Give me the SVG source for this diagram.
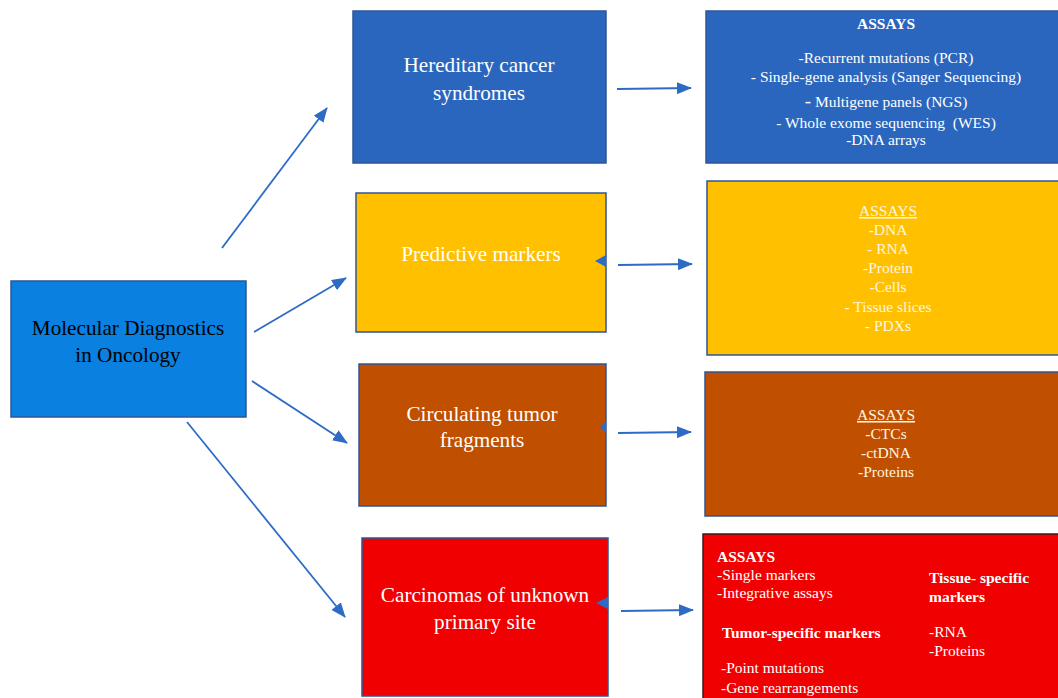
<svg xmlns="http://www.w3.org/2000/svg" width="1058" height="698" viewBox="0 0 1058 698">
<defs>
<marker id="ah" markerUnits="userSpaceOnUse" markerWidth="15" markerHeight="12" refX="14" refY="6" orient="auto">
<path d="M0,0 L15,6 L0,12 Z" fill="#2E6BC6"/>
</marker>
<style>
text{font-family:"Liberation Serif","Times New Roman",serif;}
.t20{font-size:21.2px;fill:#ffffff;text-anchor:middle;}
.t14{font-size:15.5px;fill:#ffffff;}
.c{text-anchor:middle;}
.b{font-weight:bold;}
.cream{fill:#FFF6E0;}
.conn line{stroke:#2E6BC6;stroke-width:1.8;marker-end:url(#ah);}
.box{stroke:#2F5597;stroke-width:1.5;}
</style>
</defs>
<rect width="1058" height="698" fill="#ffffff"/>

<g id="node-main">
<rect class="box" x="11" y="281" width="235" height="136" fill="#0A80E0"/>
<text x="128" y="335" style="font-size:21.2px;fill:#000;text-anchor:middle">Molecular Diagnostics</text>
<text x="128" y="362" style="font-size:21.2px;fill:#000;text-anchor:middle">in Oncology</text>
</g>

<g id="node-hereditary">
<rect class="box" x="353" y="11" width="253" height="152" fill="#2A66BE"/>
<text class="t20" x="479" y="72">Hereditary cancer</text>
<text class="t20" x="479" y="100">syndromes</text>
</g>

<g id="node-predictive">
<rect class="box" x="356" y="193" width="250" height="139" fill="#FFC000"/>
<text class="t20" x="481" y="261">Predictive markers</text>
</g>

<g id="node-circulating">
<rect class="box" x="359" y="364" width="247" height="142" fill="#C05000"/>
<text class="t20" x="482" y="421">Circulating tumor</text>
<text class="t20" x="482" y="447">fragments</text>
</g>

<g id="node-cup">
<rect class="box" x="362" y="538" width="246" height="158" fill="#F00000"/>
<text class="t20" x="485" y="602">Carcinomas of unknown</text>
<text class="t20" x="485" y="629">primary site</text>
</g>

<g id="node-assays-hereditary">
<rect class="box" x="706" y="11" width="360" height="152" fill="#2A66BE"/>
<text class="t14 c b" x="886" y="29">ASSAYS</text>
<text class="t14 c" x="886" y="63">-Recurrent mutations (PCR)</text>
<text class="t14 c" x="886" y="82">- Single-gene analysis (Sanger Sequencing)</text>
<text class="t14 c" x="886" y="107"><tspan style="font-size:19px">-</tspan> Multigene panels (NGS)</text>
<text class="t14 c" x="886" y="128" xml:space="preserve">- Whole exome sequencing  (WES)</text>
<text class="t14 c" x="886" y="145">-DNA arrays</text>
</g>

<g id="node-assays-predictive">
<rect class="box" x="707" y="181" width="360" height="174" fill="#FFC000"/>
<text class="t14 c cream" x="888" y="216" text-decoration="underline">ASSAYS</text>
<text class="t14 c cream" x="888" y="235">-DNA</text>
<text class="t14 c cream" x="888" y="254">- RNA</text>
<text class="t14 c cream" x="888" y="273">-Protein</text>
<text class="t14 c cream" x="888" y="292">-Cells</text>
<text class="t14 c cream" x="888" y="312">- Tissue slices</text>
<text class="t14 c cream" x="888" y="331">- PDXs</text>
</g>

<g id="node-assays-circulating">
<rect class="box" x="705" y="372" width="360" height="144" fill="#C05000"/>
<text class="t14 c cream" x="886" y="420" text-decoration="underline">ASSAYS</text>
<text class="t14 c cream" x="886" y="439">-CTCs</text>
<text class="t14 c cream" x="886" y="458">-ctDNA</text>
<text class="t14 c cream" x="886" y="477">-Proteins</text>
</g>

<g id="node-assays-cup">
<rect x="703" y="534" width="362" height="170" fill="#F00000" stroke="#3a1a1a" stroke-width="1.5"/>
<text class="t14 b" x="717" y="562">ASSAYS</text>
<text class="t14" x="717" y="580">-Single markers</text>
<text class="t14" x="717" y="598">-Integrative assays</text>
<text class="t14 b" x="722" y="638">Tumor-specific markers</text>
<text class="t14" x="721" y="673">-Point mutations</text>
<text class="t14" x="721" y="693">-Gene rearrangements</text>
<text class="t14 b" x="929" y="583">Tissue- specific</text>
<text class="t14 b" x="929" y="602">markers</text>
<text class="t14" x="929" y="637">-RNA</text>
<text class="t14" x="929" y="656">-Proteins</text>
</g>

<g id="connectors" class="conn">
<line x1="222" y1="248" x2="327" y2="108"/>
<line x1="254" y1="332" x2="346" y2="278"/>
<line x1="252" y1="381" x2="347" y2="443"/>
<line x1="187" y1="422" x2="345" y2="617"/>
<line x1="617" y1="89" x2="691" y2="88"/>
<line x1="618" y1="265" x2="692" y2="264"/>
<line x1="618" y1="433" x2="691" y2="432"/>
<line x1="621" y1="611" x2="693" y2="610"/>
<polygon points="595,261 606,255 606,267" fill="#2E6BC6"/>
<polygon points="600,427 606,421 606,433" fill="#2E6BC6"/>
<polygon points="596,603 608,597 608,609" fill="#2E6BC6"/>
</g>
</svg>
